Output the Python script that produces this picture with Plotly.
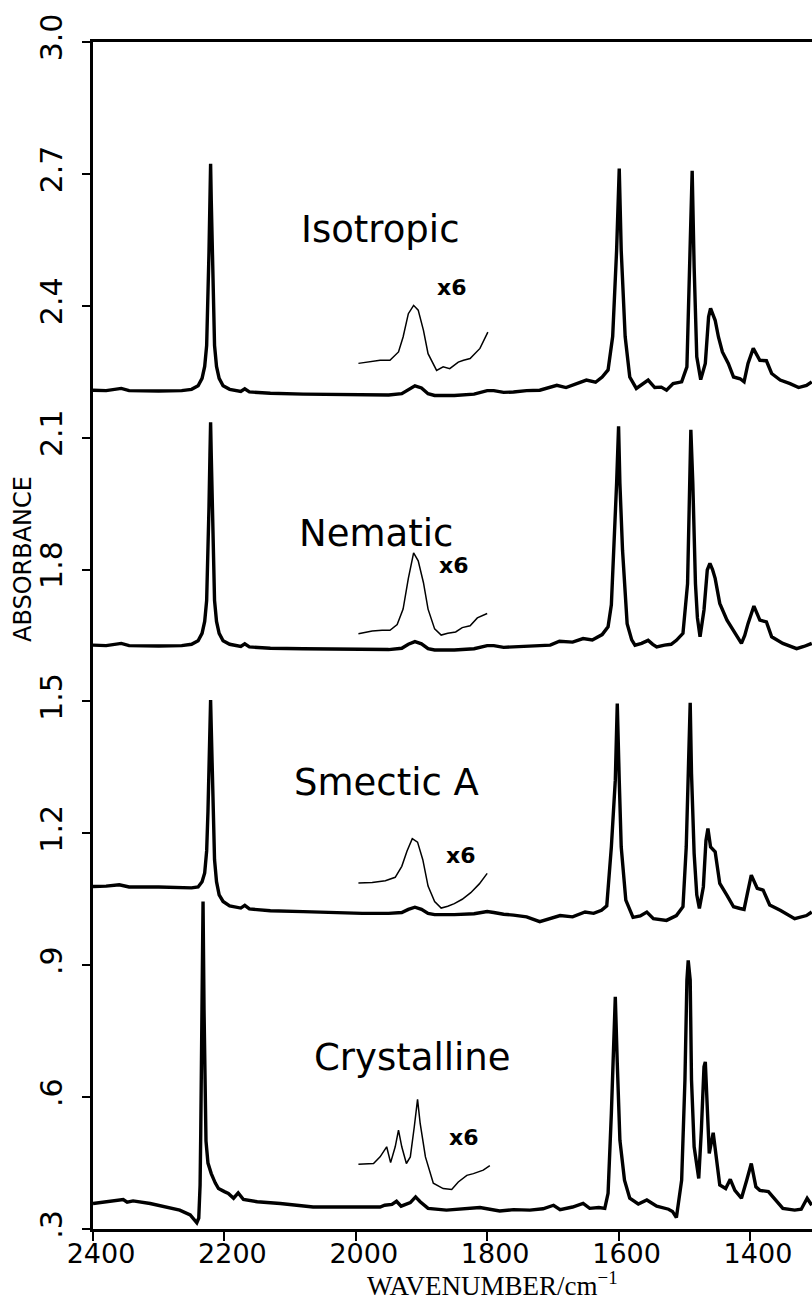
import plotly.graph_objects as go

# ---------------- data ----------------
x_ticks = [2400, 2200, 2000, 1800, 1600, 1400]
x_tick_labels = ["2400", "2200", "2000", "1800", "1600", "1400"]
y_ticks = [3.0, 2.7, 2.4, 2.1, 1.8, 1.5, 1.2, 0.9, 0.6, 0.3]
y_tick_labels = ["3.0", "2.7", "2.4", "2.1", "1.8", "1.5", "1.2", ".9", ".6", ".3"]

iso_x = [2400, 2380, 2357, 2345, 2300, 2265, 2250, 2240, 2234, 2230, 2227, 2225, 2223.5, 2222, 2221,
         2220, 2218.5, 2217, 2215, 2212, 2208, 2202, 2192, 2175, 2169, 2162, 2130, 2080, 2040, 1990,
         1950, 1930, 1920, 1910, 1900, 1890, 1880, 1850, 1820, 1800, 1790, 1775, 1760, 1740, 1720,
         1694, 1680, 1665, 1649, 1635, 1625, 1616, 1609, 1603, 1599, 1596, 1590, 1583, 1573, 1555,
         1545, 1535, 1527, 1517, 1504, 1496, 1493, 1488, 1485, 1481, 1475, 1468, 1463, 1460, 1453,
         1448, 1442, 1433, 1425, 1415, 1409, 1403, 1395, 1385, 1375, 1367, 1354, 1339, 1326, 1314, 1306]
iso_y = [2.208, 2.207, 2.212, 2.207, 2.206, 2.207, 2.210, 2.218, 2.235, 2.262, 2.31, 2.40, 2.52, 2.64, 2.723,
         2.64, 2.52, 2.40, 2.31, 2.262, 2.235, 2.218, 2.210, 2.205, 2.211, 2.204, 2.201, 2.199, 2.198, 2.197,
         2.197, 2.200, 2.210, 2.218, 2.213, 2.200, 2.196, 2.196, 2.199, 2.207, 2.207, 2.203, 2.204, 2.207, 2.208,
         2.219, 2.214, 2.222, 2.231, 2.226, 2.238, 2.254, 2.330, 2.526, 2.712, 2.526, 2.330, 2.238, 2.212, 2.231,
         2.214, 2.215, 2.208, 2.223, 2.227, 2.261, 2.45, 2.707, 2.488, 2.284, 2.232, 2.269, 2.375, 2.394, 2.367,
         2.329, 2.295, 2.269, 2.238, 2.234, 2.227, 2.269, 2.303, 2.276, 2.275, 2.246, 2.231, 2.223, 2.214, 2.219, 2.227]

iso_inset_x = [1996, 1963, 1948, 1935, 1928, 1920, 1912, 1905, 1897, 1890, 1877, 1867, 1857, 1844, 1836, 1826, 1811, 1799]
iso_inset_y = [2.269, 2.276, 2.276, 2.295, 2.329, 2.382, 2.401, 2.390, 2.344, 2.291, 2.253, 2.261, 2.257, 2.272, 2.276, 2.280, 2.303, 2.340]

nem_x = [2400, 2380, 2357, 2345, 2300, 2265, 2250, 2240, 2234, 2230, 2227, 2225, 2223.5, 2222, 2221,
         2220, 2218.5, 2217, 2215, 2212, 2208, 2202, 2192, 2175, 2169, 2162, 2130, 2080, 2040, 1990,
         1950, 1930, 1920, 1910, 1900, 1890, 1880, 1850, 1820, 1800, 1790, 1775, 1760, 1740, 1720,
         1704, 1690, 1670, 1654, 1640, 1625, 1616, 1611, 1607, 1603, 1600, 1598, 1594, 1590, 1587,
         1580, 1575, 1565, 1555, 1548, 1542, 1530, 1520, 1512, 1502, 1495, 1492, 1490, 1487, 1483,
         1480, 1476, 1470, 1465, 1461, 1457, 1453, 1446, 1435, 1425, 1418, 1413, 1408, 1403, 1394,
         1389, 1385, 1375, 1367, 1350, 1340, 1329, 1318, 1306]
nem_y = [1.628, 1.627, 1.632, 1.627, 1.626, 1.627, 1.630, 1.638, 1.655, 1.682, 1.73, 1.82, 1.94, 2.06, 2.135,
         2.06, 1.94, 1.82, 1.73, 1.682, 1.655, 1.638, 1.630, 1.625, 1.631, 1.624, 1.621, 1.620, 1.619, 1.618,
         1.618, 1.621, 1.630, 1.636, 1.631, 1.620, 1.617, 1.617, 1.620, 1.627, 1.627, 1.623, 1.624, 1.627, 1.628,
         1.628, 1.637, 1.635, 1.643, 1.640, 1.652, 1.670, 1.72, 1.844, 1.996, 2.126, 1.996, 1.844, 1.74, 1.677,
         1.640, 1.628, 1.632, 1.639, 1.630, 1.624, 1.628, 1.630, 1.639, 1.655, 1.768, 1.996, 2.118, 1.996, 1.768,
         1.69, 1.647, 1.708, 1.799, 1.814, 1.800, 1.780, 1.723, 1.685, 1.662, 1.645, 1.632, 1.650, 1.677, 1.717,
         1.700, 1.685, 1.681, 1.647, 1.632, 1.626, 1.620, 1.625, 1.632]

nem_inset_x = [1996, 1975, 1960, 1948, 1937, 1928, 1920, 1912, 1905, 1897, 1890, 1880, 1870, 1860, 1848, 1838, 1826, 1815, 1800]
nem_inset_y = [1.654, 1.660, 1.662, 1.662, 1.675, 1.71, 1.78, 1.838, 1.82, 1.77, 1.71, 1.665, 1.651, 1.655, 1.658, 1.668, 1.672, 1.69, 1.700]

sme_x = [2400, 2380, 2360, 2345, 2300, 2270, 2250, 2240, 2234, 2230, 2227, 2225, 2223.5, 2222, 2221,
         2220, 2218.5, 2217, 2215, 2212, 2208, 2202, 2192, 2175, 2169, 2162, 2130, 2080, 2040, 1990,
         1950, 1930, 1920, 1910, 1900, 1890, 1880, 1850, 1820, 1800, 1790, 1775, 1760, 1740, 1720,
         1689, 1670, 1651, 1638, 1626, 1618, 1611, 1605, 1602, 1599, 1596, 1589, 1578, 1567, 1557,
         1547, 1527, 1512, 1502, 1497, 1494, 1491, 1489, 1485, 1481, 1477, 1471, 1467, 1464, 1460,
         1453, 1446, 1435, 1425, 1415, 1409, 1404, 1398, 1389, 1380, 1370, 1354, 1332, 1314, 1306]
sme_y = [1.079, 1.080, 1.083, 1.078, 1.078, 1.077, 1.076, 1.078, 1.090, 1.11, 1.16, 1.25, 1.36, 1.45, 1.503,
         1.44, 1.33, 1.22, 1.14, 1.09, 1.06, 1.045, 1.035, 1.030, 1.036, 1.028, 1.024, 1.022, 1.020, 1.018,
         1.018, 1.020, 1.027, 1.032, 1.027, 1.018, 1.015, 1.015, 1.017, 1.022, 1.020, 1.016, 1.014, 1.010, 0.999,
         1.013, 1.010, 1.021, 1.018, 1.025, 1.035, 1.169, 1.321, 1.495, 1.321, 1.169, 1.048, 1.009, 1.012, 1.021,
         1.006, 1.002, 1.013, 1.033, 1.169, 1.336, 1.497, 1.336, 1.154, 1.06, 1.029, 1.078, 1.184, 1.211, 1.169,
         1.158, 1.086, 1.059, 1.033, 1.029, 1.027, 1.063, 1.105, 1.075, 1.071, 1.037, 1.025, 1.006, 1.013, 1.021]

sme_inset_x = [1996, 1975, 1955, 1940, 1930, 1922, 1914, 1906, 1898, 1890, 1880, 1870, 1860, 1850, 1838, 1825, 1812, 1800]
sme_inset_y = [1.087, 1.088, 1.092, 1.100, 1.125, 1.16, 1.188, 1.18, 1.14, 1.08, 1.045, 1.030, 1.034, 1.040, 1.050, 1.065, 1.085, 1.109]

cry_x = [2400, 2380, 2364, 2354, 2348, 2339, 2313, 2289, 2268, 2252, 2246, 2242, 2239, 2237, 2236,
         2235, 2234, 2232.5, 2231, 2229.5, 2228, 2225, 2220, 2214, 2209, 2200, 2194, 2186, 2179, 2171,
         2150, 2115, 2065, 2000, 1963, 1956, 1945, 1938, 1931, 1917, 1909, 1902, 1890, 1862, 1840,
         1811, 1781, 1760, 1735, 1715, 1699, 1689, 1670, 1654, 1644, 1630, 1621, 1616, 1611, 1607,
         1605, 1602, 1598, 1591, 1583, 1570, 1557, 1542, 1530, 1524, 1518, 1512, 1504, 1499, 1496,
         1494, 1491, 1489, 1485, 1478, 1474, 1470, 1468, 1466, 1462, 1456, 1451, 1446, 1437, 1430,
         1423, 1413, 1405, 1398, 1391, 1385, 1372, 1359, 1350, 1332, 1322, 1313, 1306]
cry_y = [0.358, 0.362, 0.366, 0.367, 0.361, 0.364, 0.358, 0.350, 0.343, 0.332, 0.322, 0.314, 0.325, 0.40, 0.517,
         0.65, 0.75, 1.045, 0.80, 0.60, 0.50, 0.45, 0.426, 0.405, 0.392, 0.385, 0.381, 0.370, 0.382, 0.367,
         0.362, 0.358, 0.350, 0.350, 0.350, 0.354, 0.356, 0.363, 0.352, 0.360, 0.373, 0.362, 0.347, 0.343, 0.345,
         0.349, 0.341, 0.344, 0.343, 0.346, 0.354, 0.344, 0.350, 0.358, 0.347, 0.349, 0.347, 0.381, 0.563, 0.714,
         0.828, 0.677, 0.502, 0.411, 0.370, 0.357, 0.366, 0.352, 0.347, 0.345, 0.340, 0.326, 0.411, 0.639, 0.866,
         0.911, 0.866, 0.639, 0.487, 0.415, 0.525, 0.669, 0.680, 0.601, 0.472, 0.519, 0.457, 0.400, 0.392, 0.413,
         0.388, 0.370, 0.411, 0.449, 0.396, 0.388, 0.385, 0.362, 0.347, 0.343, 0.345, 0.370, 0.354]

cry_inset_x = [1996, 1973, 1963, 1953, 1947, 1940, 1935, 1930, 1923, 1917, 1911, 1906, 1902, 1894, 1882,
               1867, 1854, 1844, 1831, 1821, 1806, 1796]
cry_inset_y = [0.447, 0.449, 0.464, 0.487, 0.451, 0.487, 0.525, 0.487, 0.449, 0.464, 0.532, 0.595, 0.540, 0.464, 0.404,
               0.392, 0.390, 0.407, 0.422, 0.426, 0.434, 0.444]

phase_names = ["Isotropic", "Nematic", "Smectic A", "Crystalline"]
phase_label_x = [1963, 1970, 1954, 1914]
phase_label_y = [2.574, 1.883, 1.316, 0.691]
x6_label_x = [1879, 1876, 1866, 1861]
x6_label_y = [2.442, 1.810, 1.150, 0.509]

# ---------------- figure ----------------
fig = go.Figure()

main_series = [(iso_x, iso_y), (nem_x, nem_y), (sme_x, sme_y), (cry_x, cry_y)]
inset_series = [(iso_inset_x, iso_inset_y), (nem_inset_x, nem_inset_y),
                (sme_inset_x, sme_inset_y), (cry_inset_x, cry_inset_y)]

for xs, ys in main_series:
    fig.add_trace(go.Scatter(x=xs, y=ys, mode="lines",
                             line=dict(color="black", width=3.4),
                             hoverinfo="skip", showlegend=False))
for xs, ys in inset_series:
    fig.add_trace(go.Scatter(x=xs, y=ys, mode="lines",
                             line=dict(color="black", width=1.5),
                             hoverinfo="skip", showlegend=False))

for name, lx, ly in zip(phase_names, phase_label_x, phase_label_y):
    fig.add_annotation(x=lx, y=ly, xref="x", yref="y", text=name, showarrow=False,
                       xanchor="center", yanchor="middle",
                       font=dict(family="DejaVu Sans", size=37, color="black"))
for lx, ly in zip(x6_label_x, x6_label_y):
    fig.add_annotation(x=lx, y=ly, xref="x", yref="y", text="x6", showarrow=False,
                       xanchor="left", yanchor="middle",
                       font=dict(family="DejaVu Sans", size=22, color="black", weight="bold"))

fig.add_annotation(x=-0.0974, y=0.5644, xref="paper", yref="paper", text="ABSORBANCE",
                   textangle=-90, showarrow=False, xanchor="center", yanchor="middle",
                   font=dict(family="DejaVu Sans", size=24, color="black"))
fig.add_annotation(x=0.555, y=-0.0465, xref="paper", yref="paper",
                   text="WAVENUMBER/cm<sup>\u22121</sup>", showarrow=False,
                   xanchor="center", yanchor="middle",
                   font=dict(family="Liberation Serif", size=27, color="black"))

fig.update_layout(width=812, height=1301,
                  margin=dict(l=93, r=0, t=42, b=72),
                  paper_bgcolor="white", plot_bgcolor="white",
                  showlegend=False)
fig.update_xaxes(range=[2400, 1305.6], tickmode="array", tickvals=x_ticks, ticktext=x_tick_labels,
                 ticks="outside", ticklen=9, tickwidth=2, tickcolor="black",
                 showline=True, linewidth=2.5, linecolor="black", mirror=True,
                 showgrid=False, zeroline=False, ticklabelshift=-8, ticklabelstandoff=-10,
                 tickfont=dict(family="DejaVu Sans", size=27, color="black"))
fig.update_yaxes(range=[0.3, 3.0], tickmode="array", tickvals=y_ticks, ticktext=y_tick_labels,
                 tickangle=-90, ticks="outside", ticklen=8, tickwidth=2, tickcolor="black",
                 showline=True, linewidth=2.5, linecolor="black", mirror=False,
                 showgrid=False, zeroline=False, ticklabelstandoff=8,
                 tickfont=dict(family="DejaVu Sans", size=30, color="black"))

fig.write_html("out.html")
